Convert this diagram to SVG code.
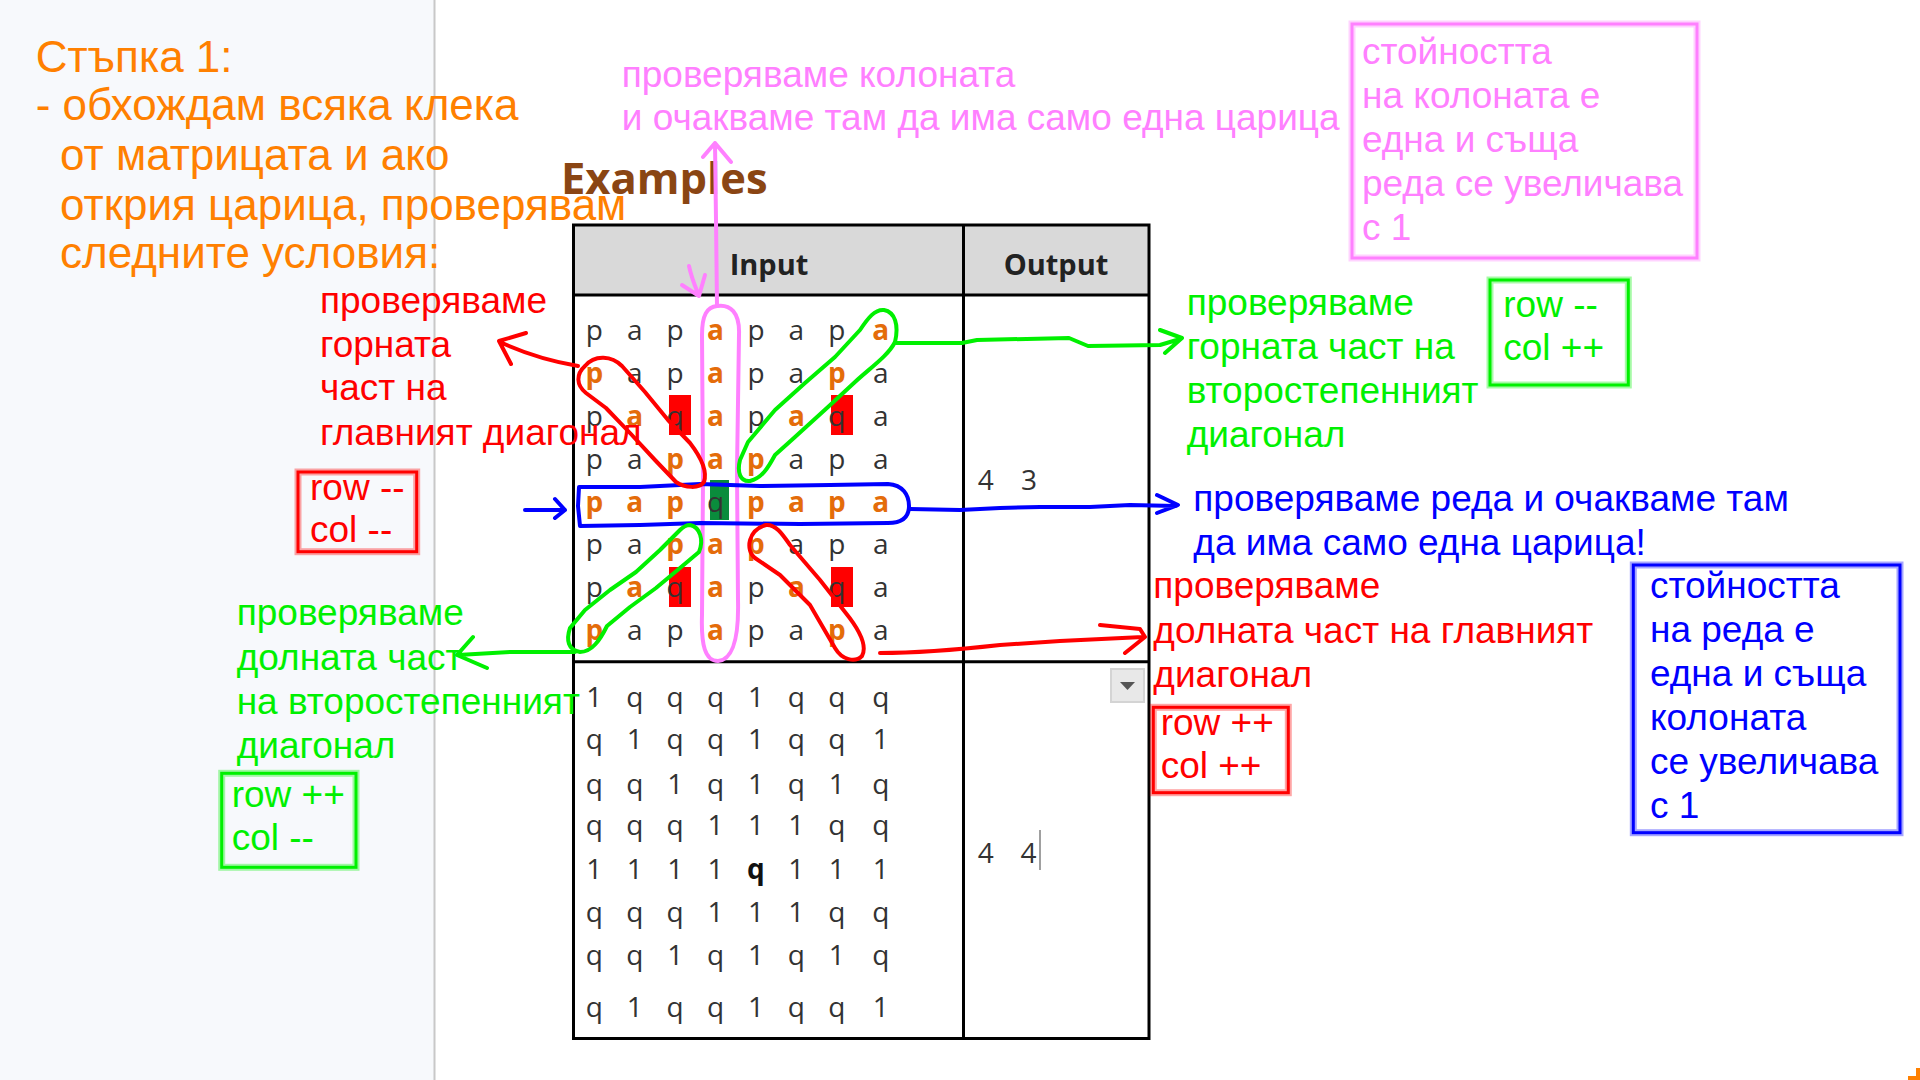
<svg xmlns="http://www.w3.org/2000/svg" width="1920" height="1080" viewBox="0 0 1920 1080">
<style>
.ann{font-family:"Liberation Sans",Arial,sans-serif;font-size:37px}
.step{font-family:"Liberation Sans",Arial,sans-serif;font-size:44px;fill:#ff8000}
.red{fill:#ff0000}
.grn{fill:#00f000}
.blu{fill:#0000ff}
.pnk{fill:#ff80ff}
.m{font-family:"Open Sans","DejaVu Sans",sans-serif;font-size:28px;fill:#333;text-anchor:middle}
.o{fill:#e46c0a;font-weight:bold}
.b{font-weight:bold;fill:#111}
.hd{font-family:"Open Sans","DejaVu Sans",sans-serif;font-size:29px;font-weight:bold;fill:#222;text-anchor:middle}
.ink{fill:none;stroke-width:4;stroke-linecap:round;stroke-linejoin:round}
.sr{stroke:#ff0000}
.sg{stroke:#00f000}
.sb{stroke:#0000ff}
.sp{stroke:#ff80ff}
.bx{fill:none;stroke-width:3}
.halo{fill:none;stroke-width:7;stroke-opacity:0.35}
.tb{fill:none;stroke:#000;stroke-width:3}
</style>

<g id="background">
  <rect x="0" y="0" width="1920" height="1080" fill="#ffffff"/>
  <rect x="0" y="0" width="434" height="1080" fill="#f7f9fc"/>
  <line x1="434.5" y1="0" x2="434.5" y2="1080" stroke="#c8c8c8" stroke-width="2"/>
  <path d="M1918,1068 L1918,1078 L1908,1078" fill="none" stroke="#ff8000" stroke-width="4"/>
</g>

<g id="step-text" class="step">
  <text x="35.7" y="71.7">Стъпка 1:</text>
  <text x="35.7" y="120">- обхождам всяка клека</text>
  <text x="60" y="170">от матрицата и ако</text>
  <text x="60" y="220">открия царица, проверявам</text>
  <text x="60" y="268">следните условия:</text>
</g>

<g id="examples-title">
  <text x="561" y="194" font-family="'Open Sans','Liberation Sans',sans-serif" font-size="43.5" font-weight="bold" fill="#8a4513">Examples</text>
</g>

<g id="examples-table">
  <rect x="573.5" y="225" width="575.5" height="70" fill="#d9d9d9"/>
  <rect x="573.5" y="225" width="575.5" height="813.5" class="tb"/>
  <line x1="573.5" y1="295" x2="1149" y2="295" stroke="#000" stroke-width="3"/>
  <line x1="573.5" y1="661.7" x2="1149" y2="661.7" stroke="#000" stroke-width="3"/>
  <line x1="963.5" y1="225" x2="963.5" y2="1038.5" stroke="#000" stroke-width="3"/>
  <text x="769" y="275" class="hd">Input</text>
  <text x="1056" y="275" class="hd">Output</text>

  <g id="input-1-highlights">
    <rect x="669" y="395" width="22" height="40" fill="#ff0000"/>
    <rect x="831" y="395" width="22" height="40" fill="#ff0000"/>
    <rect x="669" y="567" width="22" height="40" fill="#ff0000"/>
    <rect x="831" y="567" width="22" height="40" fill="#ff0000"/>
    <rect x="710" y="480" width="19" height="40" fill="#0a8c3c"/>
  </g>

  <g id="input-1" class="m">
    <text y="340"><tspan x="598">p</tspan> <tspan x="638.4">a</tspan> <tspan x="678.8">p</tspan> <tspan x="719.2" class="o">a</tspan> <tspan x="759.6">p</tspan> <tspan x="800">a</tspan> <tspan x="840.4">p</tspan> <tspan x="880.8" class="o">a</tspan></text>
    <text y="383"><tspan x="598" class="o">p</tspan> <tspan x="638.4">a</tspan> <tspan x="678.8">p</tspan> <tspan x="719.2" class="o">a</tspan> <tspan x="759.6">p</tspan> <tspan x="800">a</tspan> <tspan x="840.4" class="o">p</tspan> <tspan x="880.8">a</tspan></text>
    <text y="426"><tspan x="598">p</tspan> <tspan x="638.4" class="o">a</tspan> <tspan x="678.8">q</tspan> <tspan x="719.2" class="o">a</tspan> <tspan x="759.6">p</tspan> <tspan x="800" class="o">a</tspan> <tspan x="840.4">q</tspan> <tspan x="880.8">a</tspan></text>
    <text y="469"><tspan x="598">p</tspan> <tspan x="638.4">a</tspan> <tspan x="678.8" class="o">p</tspan> <tspan x="719.2" class="o">a</tspan> <tspan x="759.6" class="o">p</tspan> <tspan x="800">a</tspan> <tspan x="840.4">p</tspan> <tspan x="880.8">a</tspan></text>
    <text y="512"><tspan x="598" class="o">p</tspan> <tspan x="638.4" class="o">a</tspan> <tspan x="678.8" class="o">p</tspan> <tspan x="719.2">q</tspan> <tspan x="759.6" class="o">p</tspan> <tspan x="800" class="o">a</tspan> <tspan x="840.4" class="o">p</tspan> <tspan x="880.8" class="o">a</tspan></text>
    <text y="554"><tspan x="598">p</tspan> <tspan x="638.4">a</tspan> <tspan x="678.8" class="o">p</tspan> <tspan x="719.2" class="o">a</tspan> <tspan x="759.6" class="o">p</tspan> <tspan x="800">a</tspan> <tspan x="840.4">p</tspan> <tspan x="880.8">a</tspan></text>
    <text y="597"><tspan x="598">p</tspan> <tspan x="638.4" class="o">a</tspan> <tspan x="678.8">q</tspan> <tspan x="719.2" class="o">a</tspan> <tspan x="759.6">p</tspan> <tspan x="800" class="o">a</tspan> <tspan x="840.4">q</tspan> <tspan x="880.8">a</tspan></text>
    <text y="640"><tspan x="598" class="o">p</tspan> <tspan x="638.4">a</tspan> <tspan x="678.8">p</tspan> <tspan x="719.2" class="o">a</tspan> <tspan x="759.6">p</tspan> <tspan x="800">a</tspan> <tspan x="840.4" class="o">p</tspan> <tspan x="880.8">a</tspan></text>
  </g>
  <g id="output-1" class="m">
    <text y="490"><tspan x="989.5">4</tspan> <tspan x="1029">3</tspan></text>
  </g>

  <g id="input-2" class="m">
    <text y="707"><tspan x="598">1</tspan> <tspan x="638.4">q</tspan> <tspan x="678.8">q</tspan> <tspan x="719.2">q</tspan> <tspan x="759.6">1</tspan> <tspan x="800">q</tspan> <tspan x="840.4">q</tspan> <tspan x="880.8">q</tspan></text>
    <text y="749"><tspan x="598">q</tspan> <tspan x="638.4">1</tspan> <tspan x="678.8">q</tspan> <tspan x="719.2">q</tspan> <tspan x="759.6">1</tspan> <tspan x="800">q</tspan> <tspan x="840.4">q</tspan> <tspan x="880.8">1</tspan></text>
    <text y="794"><tspan x="598">q</tspan> <tspan x="638.4">q</tspan> <tspan x="678.8">1</tspan> <tspan x="719.2">q</tspan> <tspan x="759.6">1</tspan> <tspan x="800">q</tspan> <tspan x="840.4">1</tspan> <tspan x="880.8">q</tspan></text>
    <text y="835"><tspan x="598">q</tspan> <tspan x="638.4">q</tspan> <tspan x="678.8">q</tspan> <tspan x="719.2">1</tspan> <tspan x="759.6">1</tspan> <tspan x="800">1</tspan> <tspan x="840.4">q</tspan> <tspan x="880.8">q</tspan></text>
    <text y="879"><tspan x="598">1</tspan> <tspan x="638.4">1</tspan> <tspan x="678.8">1</tspan> <tspan x="719.2">1</tspan> <tspan x="759.6" class="b">q</tspan> <tspan x="800">1</tspan> <tspan x="840.4">1</tspan> <tspan x="880.8">1</tspan></text>
    <text y="922"><tspan x="598">q</tspan> <tspan x="638.4">q</tspan> <tspan x="678.8">q</tspan> <tspan x="719.2">1</tspan> <tspan x="759.6">1</tspan> <tspan x="800">1</tspan> <tspan x="840.4">q</tspan> <tspan x="880.8">q</tspan></text>
    <text y="965"><tspan x="598">q</tspan> <tspan x="638.4">q</tspan> <tspan x="678.8">1</tspan> <tspan x="719.2">q</tspan> <tspan x="759.6">1</tspan> <tspan x="800">q</tspan> <tspan x="840.4">1</tspan> <tspan x="880.8">q</tspan></text>
    <text y="1017"><tspan x="598">q</tspan> <tspan x="638.4">1</tspan> <tspan x="678.8">q</tspan> <tspan x="719.2">q</tspan> <tspan x="759.6">1</tspan> <tspan x="800">q</tspan> <tspan x="840.4">q</tspan> <tspan x="880.8">1</tspan></text>
  </g>
  <g id="output-2" class="m">
    <text y="863"><tspan x="989.5">4</tspan> <tspan x="1028.5">4</tspan></text>
    <line x1="1040" y1="830" x2="1040" y2="870" stroke="#a0a0a0" stroke-width="2"/>
    <rect x="1111" y="669" width="33" height="33" fill="#e8e8e8" stroke="#d4d4d4" stroke-width="2"/>
    <path d="M1120,682 L1135,682 L1127.5,690 Z" fill="#555"/>
  </g>
</g>

<g id="note-column" class="ann pnk">
  <text x="621.7" y="86.7">проверяваме колоната</text>
  <text x="621.7" y="130">и очакваме там да има само една царица</text>
</g>

<g id="note-column-value">
  <rect x="1352" y="24" width="345" height="234" class="halo" stroke="#ff80ff"/>
  <rect x="1352" y="24" width="345" height="234" class="bx" stroke="#ff80ff"/>
  <g class="ann pnk">
    <text x="1362" y="64">стойността</text>
    <text x="1362" y="108">на колоната е</text>
    <text x="1362" y="152">една и съща</text>
    <text x="1362" y="196">реда се увеличава</text>
    <text x="1362" y="240">с 1</text>
  </g>
</g>

<g id="note-main-upper" class="ann red">
  <text x="320" y="313">проверяваме</text>
  <text x="320" y="357">горната</text>
  <text x="320" y="400">част на</text>
  <text x="320" y="445">главният диагонал</text>
</g>

<g id="box-main-upper">
  <rect x="298" y="472" width="118.7" height="79.7" class="halo" stroke="#ff0000"/>
  <rect x="298" y="472" width="118.7" height="79.7" class="bx" stroke="#ff0000"/>
  <g class="ann red">
    <text x="310" y="500">row --</text>
    <text x="310" y="541.7">col --</text>
  </g>
</g>

<g id="note-secondary-upper" class="ann grn">
  <text x="1186.7" y="315">проверяваме</text>
  <text x="1186.7" y="359.3">горната част на</text>
  <text x="1186.7" y="403.3">второстепенният</text>
  <text x="1186.7" y="446.7">диагонал</text>
</g>

<g id="box-secondary-upper">
  <rect x="1490" y="280" width="138.3" height="105" class="halo" stroke="#00f000"/>
  <rect x="1490" y="280" width="138.3" height="105" class="bx" stroke="#00f000"/>
  <g class="ann grn">
    <text x="1503.3" y="316.7">row --</text>
    <text x="1503.3" y="360">col ++</text>
  </g>
</g>

<g id="note-row" class="ann blu">
  <text x="1193.3" y="511">проверяваме реда и очакваме там</text>
  <text x="1193.3" y="555">да има само една царица!</text>
</g>

<g id="note-main-lower" class="ann red">
  <text x="1153.3" y="598.3">проверяваме</text>
  <text x="1153.3" y="643.3">долната част на главният</text>
  <text x="1153.3" y="686.7">диагонал</text>
</g>

<g id="box-main-lower">
  <rect x="1153.3" y="707.3" width="135" height="85.4" class="halo" stroke="#ff0000"/>
  <rect x="1153.3" y="707.3" width="135" height="85.4" class="bx" stroke="#ff0000"/>
  <g class="ann red">
    <text x="1160.7" y="735">row ++</text>
    <text x="1160.7" y="778.3">col ++</text>
  </g>
</g>

<g id="note-row-value">
  <rect x="1633.3" y="565" width="266.7" height="267.7" class="halo" stroke="#0000ff"/>
  <rect x="1633.3" y="565" width="266.7" height="267.7" class="bx" stroke="#0000ff"/>
  <g class="ann blu">
    <text x="1650" y="598">стойността</text>
    <text x="1650" y="642">на реда е</text>
    <text x="1650" y="686">една и съща</text>
    <text x="1650" y="730">колоната</text>
    <text x="1650" y="774">се увеличава</text>
    <text x="1650" y="818">с 1</text>
  </g>
</g>

<g id="note-secondary-lower" class="ann grn">
  <text x="236.7" y="625">проверяваме</text>
  <text x="236.7" y="670">долната част</text>
  <text x="236.7" y="714">на второстепенният</text>
  <text x="236.7" y="758.3">диагонал</text>
</g>

<g id="box-secondary-lower">
  <rect x="221.7" y="773.3" width="134.3" height="94" class="halo" stroke="#00f000"/>
  <rect x="221.7" y="773.3" width="134.3" height="94" class="bx" stroke="#00f000"/>
  <g class="ann grn">
    <text x="231.7" y="806.7">row ++</text>
    <text x="231.7" y="850">col --</text>
  </g>
</g>

<g id="connectors">
  <path class="ink sp" d="M717,306 C730,304 740,312 739,335 L737,470 L738,600 C739,640 732,660 718,661 C705,661 701,645 702,615 L703,480 L702,335 C702,315 707,307 717,306 Z"/>
  <path class="ink sp" d="M717,306 L716,220 L715,143 M703,157 L715,143 L731,162"/>
  <path class="ink sp" d="M689,266 C692,280 696,288 699,296 M682,285 L699,296 L705,275"/>
  <path class="ink sb" d="M579,487 L640,487 L700,484 L760,486 L830,485 L888,484 C903,485 909,495 909,506 C909,517 902,523 888,523 L800,524 L700,523 L640,525 L580,526 L578,506 Z"/>
  <path class="ink sb" d="M910,509 L960,510 L1000,508 L1040,507 L1090,507 L1130,505 L1176,506 M1157,495 L1178,505 L1157,513"/>
  <path class="ink sb" d="M525,510 L565,510 M555,499 L565,510 L555,518"/>
  <path class="ink sr" d="M585,366 C595,354 612,356 622,366 L645,392 L668,420 L690,443 C700,456 708,470 704,482 C699,489 685,488 676,482 L655,460 L630,433 L606,408 L586,393 C576,385 576,374 585,366 Z"/>
  <path class="ink sr" d="M578,366 C555,362 530,356 500,342 M526,333 L499,341 L511,364"/>
  <path class="ink sr" d="M766,525 C776,524 783,535 790,545 L820,580 L845,612 C858,628 868,645 862,656 C855,663 842,660 835,648 L810,605 L780,575 L755,558 C745,550 748,530 766,525 Z"/>
  <path class="ink sr" d="M880,653 C920,653 955,650 1000,645 L1060,641 L1143,637 M1100,625 L1140,629 L1145,637 L1125,653"/>
  <path class="ink sg" d="M884,310 C895,312 899,325 895,342 C888,356 870,368 855,382 L828,407 L795,437 L775,455 C768,468 762,478 750,481 C740,482 737,472 740,460 L748,442 L775,410 L805,383 L835,357 L860,330 C868,318 875,309 884,310 Z"/>
  <path class="ink sg" d="M896,343 L962,343 L977,340 L1069,338 L1088,346 L1160,345 L1180,339 M1160,330 L1182,338 L1165,353"/>
  <path class="ink sg" d="M690,525 C700,527 704,540 699,552 L680,568 L656,588 L630,607 L607,626 C600,640 592,652 580,652 C568,650 566,640 570,628 L585,610 L610,590 L636,572 L660,550 L680,530 C684,526 687,525 690,525 Z"/>
  <path class="ink sg" d="M575,652 L510,652 L458,655 M473,637 L457,655 L487,668"/>
</g>
</svg>
